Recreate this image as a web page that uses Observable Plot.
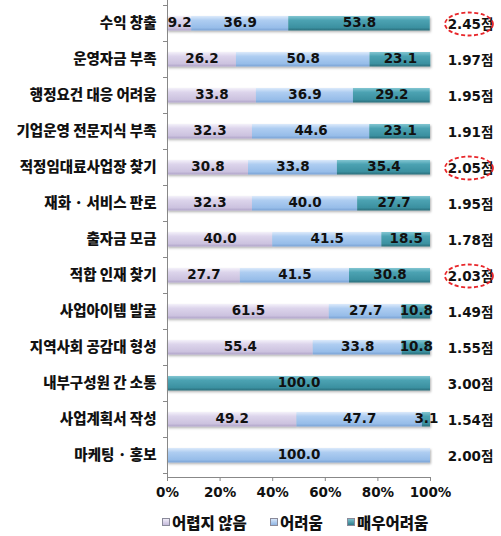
<!DOCTYPE html>
<html><head><meta charset="utf-8">
<script src="https://cdn.jsdelivr.net/npm/d3@7"></script>
<script src="https://cdn.jsdelivr.net/npm/@observablehq/plot@0.6"></script>
<style>
body{margin:0;background:#fff;}
#wrap{position:relative;width:501px;height:536px;overflow:hidden;}
#legend{position:absolute;left:0;top:511px;width:501px;height:22px;font-family:"Noto Sans CJK KR",sans-serif;font-weight:900;font-size:15.5px;color:#111;}
.item{position:absolute;top:0;display:flex;align-items:center;height:22px;}
.sw{width:8px;height:8px;margin-right:2px;border:1px solid #8a8a9a;box-sizing:border-box;}
</style></head><body><div id="wrap"><div id="chart"></div><div id="legend"></div></div>
<script>
const categories = ["수익 창출","운영자금 부족","행정요건 대응 어려움","기업운영 전문지식 부족","적정임대료사업장 찾기","재화 · 서비스 판로","출자금 모금","적합 인재 찾기","사업아이템 발굴","지역사회 공감대 형성","내부구성원 간 소통","사업계획서 작성","마케팅 · 홍보"];
const seriesNames = ["어렵지 않음","어려움","매우어려움"];
const notDifficult = [9.2,26.2,33.8,32.3,30.8,32.3,40.0,27.7,61.5,55.4,0,49.2,0];
const difficult = [36.9,50.8,36.9,44.6,33.8,40.0,41.5,41.5,27.7,33.8,0,47.7,100.0];
const veryDifficult = [53.8,23.1,29.2,23.1,35.4,27.7,18.5,30.8,10.8,10.8,100.0,3.1,0];
const scores = [2.45,1.97,1.95,1.91,2.05,1.95,1.78,2.03,1.49,1.55,3.00,1.54,2.00];
const highlighted = ["수익 창출","적정임대료사업장 찾기","적합 인재 찾기"];
const xTicks = [0,20,40,60,80,100];

const gradients = [
  {id:"gA", stops:[["0%","#f4f1fa"],["30%","#dcd4eb"],["80%","#ccc2df"],["100%","#b0a4c9"]]},
  {id:"gB", stops:[["0%","#dceafb"],["30%","#aecdf1"],["80%","#97bde9"],["100%","#7aa2d4"]]},
  {id:"gC", stops:[["0%","#82c6d2"],["30%","#4ba2b2"],["80%","#3b90a0"],["100%","#2a6d7a"]]}
];

const seriesValues = [notDifficult, difficult, veryDifficult];
const rows = [];
categories.forEach((c,i)=>seriesNames.forEach((s,j)=>rows.push({cat:c, series:s, value:seriesValues[j][i]})));
const scoreRows = categories.map((c,i)=>({cat:c, score:scores[i]}));

const numFont = "'DejaVu Sans','Noto Sans CJK KR',sans-serif";
const krFont = "'Noto Sans CJK KR',sans-serif";

function defsMark(){
  const g = d3.create("svg:g");
  const defs = g.append("defs");
  for (const gr of gradients){
    const lg = defs.append("linearGradient").attr("id",gr.id).attr("x1",0).attr("y1",0).attr("x2",0).attr("y2",1);
    for (const [o,c] of gr.stops) lg.append("stop").attr("offset",o).attr("stop-color",c);
  }
  const f = defs.append("filter").attr("id","shadow").attr("x","-5%").attr("y","-30%").attr("width","110%").attr("height","180%");
  f.append("feDropShadow").attr("dx",1).attr("dy",1.5).attr("stdDeviation",1).attr("flood-color","#000").attr("flood-opacity",0.3);
  return g.node();
}

function boundaryTicks(index, scales){
  const y = scales.y, x = scales.x, bw = y.bandwidth();
  const g = d3.create("svg:g").attr("stroke","#888").attr("stroke-width",1);
  for (let i=0;i<=categories.length;i++){
    const yy = Math.round(i<categories.length ? y(categories[i]) : y(categories[i-1])+bw)+0.5;
    g.append("line").attr("x1",x(0)-4).attr("x2",x(0)).attr("y1",yy).attr("y2",yy);
  }
  return g.node();
}

function scoreCircles(index, scales){
  const y = scales.y, x = scales.x, bw = y.bandwidth();
  const g = d3.create("svg:g").attr("fill","none").attr("stroke","#e8262a").attr("stroke-width",1.8).attr("stroke-dasharray","4,2.5");
  for (const c of highlighted){
    g.append("ellipse").attr("cx",x(100)+39).attr("cy",y(c)+bw/2+1).attr("rx",24).attr("ry",11.5);
  }
  return g.node();
}

const chart = Plot.plot({
  width: 501, height: 509,
  marginLeft: 167, marginRight: 71, marginTop: 0, marginBottom: 32,
  style: {fontFamily: numFont, fontWeight: "bold", color: "#111", background: "#fff", overflow: "visible"},
  x: {domain:[0,100], label:null},
  y: {domain: categories, padding: 0, label:null},
  color: {domain: seriesNames, range: gradients.map(g=>`url(#${g.id})`)},
  marks: [
    defsMark,
    Plot.barX(rows, Plot.stackX({x:"value", y:"cat", z:"series", fill:"series", insetTop:11, insetBottom:10.5})),
    Plot.text(rows.filter(d=>d.value>0), Plot.stackX({x:"value", y:"cat", z:"series", text:d=>d.value.toFixed(1), fontSize:13.5, fill:"#111", dy:-1})),
    Plot.frame({anchor:"left", stroke:"#888"}),
    Plot.frame({anchor:"bottom", stroke:"#888"}),
    boundaryTicks,
    Plot.axisX({ticks:xTicks, tickFormat:d=>d+"%", tickSize:4, tickPadding:6, fontSize:13.5, fontWeight:"bold", stroke:"#888", label:null}),
    Plot.axisY({tickSize:0, tickPadding:11, fontSize:14.5, fontFamily:krFont, fontWeight:900, label:null}),
    Plot.text(scoreRows, {x:100, y:"cat", text:d=>d.score.toFixed(2)+"점", dx:40, dy:1, textAnchor:"middle", fontSize:13.5, fill:"#111"}),
    scoreCircles
  ]
});
chart.querySelectorAll('g[aria-label="bar"]').forEach(g=>g.setAttribute("filter","url(#shadow)"));
document.getElementById("chart").appendChild(chart);

const legendPos = [162, 270, 347];
const swatchColors = ["linear-gradient(#f0ecf8,#c4badb)","linear-gradient(#d6e6fa,#8fb5e4)","linear-gradient(#7ac0cc,#2f7c8a)"];
const legend = d3.select("#legend");
seriesNames.forEach((s,i)=>{
  const it = legend.append("div").attr("class","item").style("left",legendPos[i]+"px");
  it.append("div").attr("class","sw").style("background",swatchColors[i]);
  it.append("span").text(s);
});
</script></body></html>
